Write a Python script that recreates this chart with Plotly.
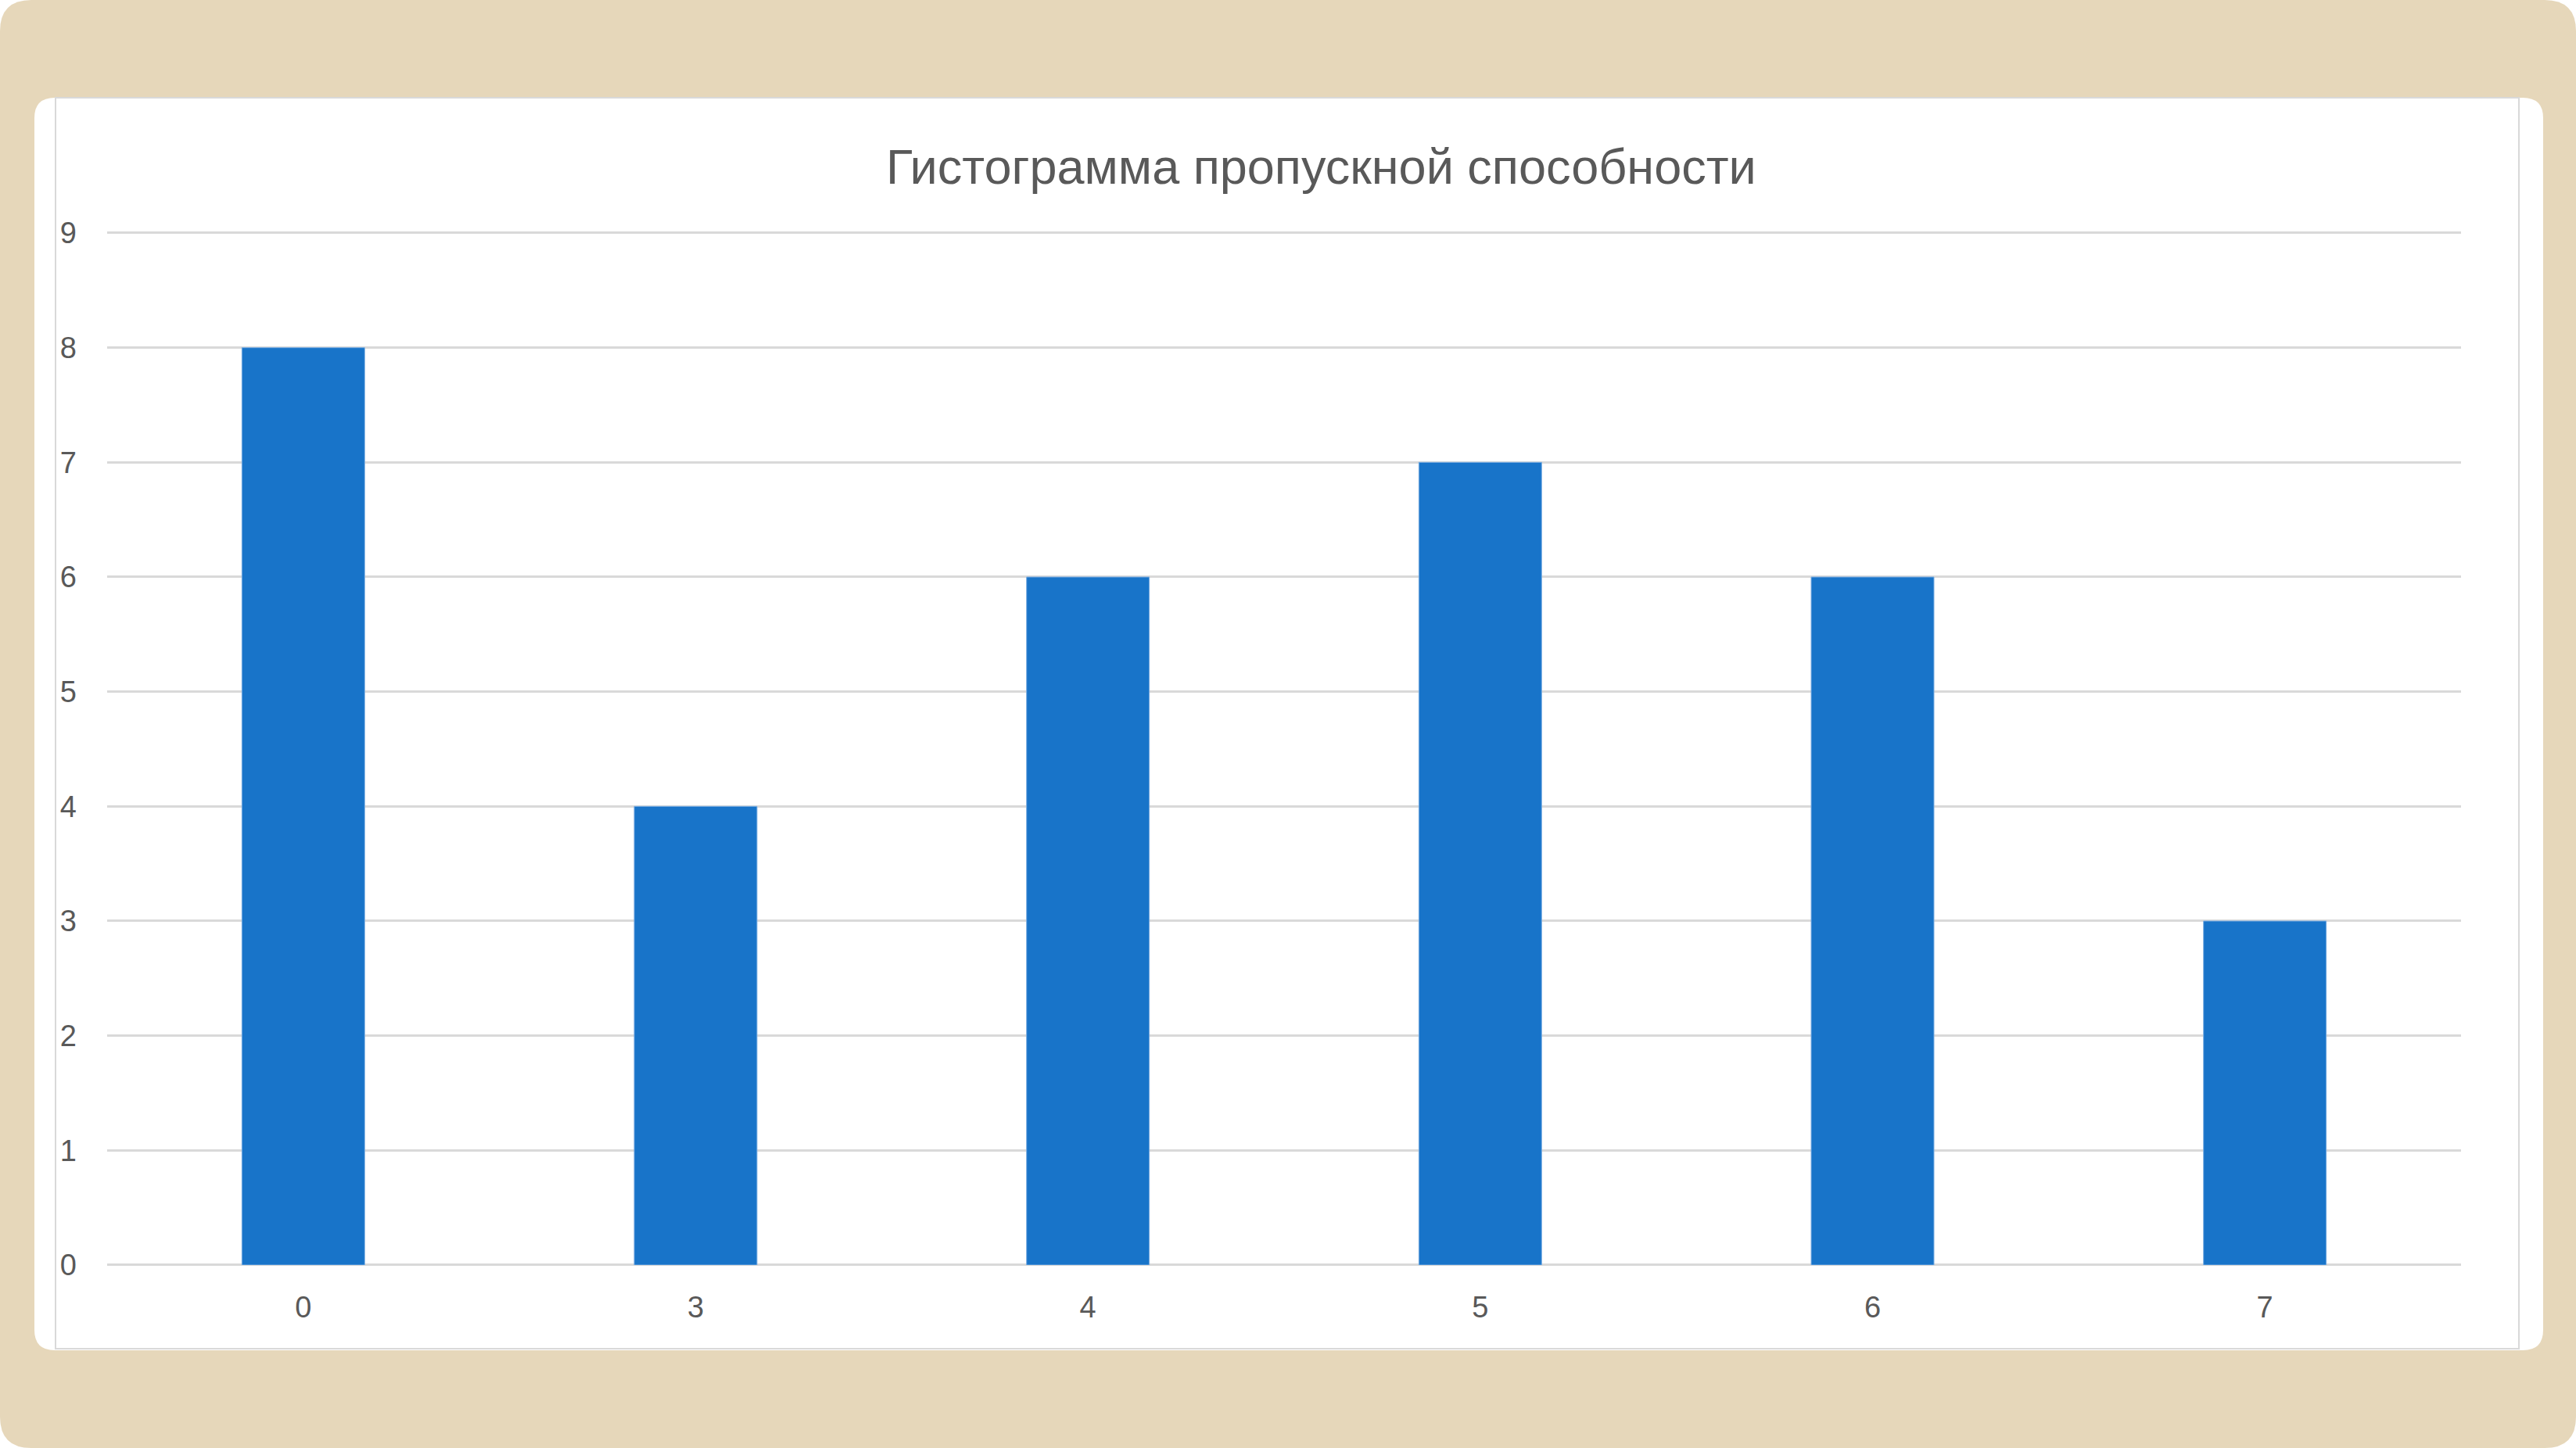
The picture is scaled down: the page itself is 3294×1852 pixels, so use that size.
import plotly.graph_objects as go

# Data
categories = ["0", "3", "4", "5", "6", "7"]
counts = [8, 4, 6, 7, 6, 3]
y_ticks = [0, 1, 2, 3, 4, 5, 6, 7, 8, 9]
title_text = "Гистограмма пропускной способности"

W, H = 3294, 1852
Y0_PX, Y9_PX = 1618, 298
Y_TOP = 9.02
unit_px = (Y0_PX - Y9_PX) / 9.0


def px(x):
    return x / W


def py(y):
    return 1 - y / H


def rounded_rect(x0, y0, x1, y1, r):
    pts = [
        f"M {px(x0 + r)} {py(y0)}",
        f"L {px(x1 - r)} {py(y0)}",
        f"Q {px(x1)} {py(y0)} {px(x1)} {py(y0 + r)}",
        f"L {px(x1)} {py(y1 - r)}",
        f"Q {px(x1)} {py(y1)} {px(x1 - r)} {py(y1)}",
        f"L {px(x0 + r)} {py(y1)}",
        f"Q {px(x0)} {py(y1)} {px(x0)} {py(y1 - r)}",
        f"L {px(x0)} {py(y0 + r)}",
        f"Q {px(x0)} {py(y0)} {px(x0 + r)} {py(y0)}",
        "Z",
    ]
    return " ".join(pts)


fig = go.Figure()
fig.add_trace(
    go.Bar(
        x=categories,
        y=counts,
        marker=dict(color="#1874C9", line=dict(color="#7FB0E3", width=1)),
        hoverinfo="x+y",
    )
)

shapes = [
    dict(type="path", xref="paper", yref="paper",
         path=rounded_rect(0, 0, W, H, 40),
         fillcolor="#E6D7BA", line=dict(width=0), layer="below"),
    dict(type="path", xref="paper", yref="paper",
         path=rounded_rect(44, 125, 3252, 1727, 26),
         fillcolor="#FFFFFF", line=dict(width=0), layer="below"),
    dict(type="rect", xref="paper", yref="paper",
         x0=px(71), x1=px(3221), y0=py(1725), y1=py(125),
         fillcolor="rgba(0,0,0,0)", line=dict(color="#D9D9D9", width=2), layer="below"),
]

fig.update_layout(
    width=W,
    height=H,
    autosize=False,
    margin=dict(l=0, r=0, t=0, b=0, pad=0, autoexpand=False),
    paper_bgcolor="#FFFFFF",
    plot_bgcolor="rgba(0,0,0,0)",
    showlegend=False,
    bargap=0.687,
    shapes=shapes,
    font=dict(family="Liberation Sans, Arial, sans-serif", color="#595959"),
    xaxis=dict(
        type="category",
        domain=[px(137), px(3147)],
        showgrid=False,
        showline=False,
        zeroline=False,
        automargin=False,
        ticks="",
        tickfont=dict(size=38, color="#595959"),
        ticklabelstandoff=28,
    ),
    yaxis=dict(
        domain=[py(Y0_PX), py(Y0_PX - Y_TOP * unit_px)],
        range=[0, Y_TOP],
        tickvals=y_ticks,
        showgrid=True,
        gridcolor="#D9D9D9",
        gridwidth=3,
        zeroline=True,
        zerolinecolor="#D9D9D9",
        zerolinewidth=3,
        showline=False,
        automargin=False,
        ticks="",
        tickfont=dict(size=38, color="#595959"),
        ticklabelstandoff=38,
    ),
    annotations=[
        dict(
            text=title_text,
            xref="paper", yref="paper",
            x=px(1690), y=py(213),
            xanchor="center", yanchor="middle",
            showarrow=False,
            font=dict(size=63, color="#595959", family="Liberation Sans, Arial, sans-serif"),
        )
    ],
)

fig.write_html("out.html")
